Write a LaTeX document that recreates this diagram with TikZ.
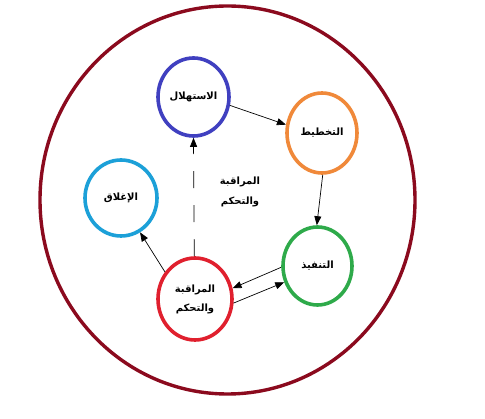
\documentclass[tikz,border=0pt]{standalone}
\usepackage{fontspec}
\newfontfamily\arabicfont[Script=Arabic]{DejaVu Sans}
\TeXXeTstate=1
\usetikzlibrary{shapes.geometric,arrows.meta}
\definecolor{outerred}{HTML}{8B0A1E}
\definecolor{cblue}{HTML}{4040C0}
\definecolor{corange}{HTML}{F0893A}
\definecolor{cgreen}{HTML}{2EAA4A}
\definecolor{cred}{HTML}{E0202E}
\definecolor{ccyan}{HTML}{1CA0D8}
\tikzset{
  phase/.style={ellipse, draw, line width=3.6pt, inner sep=0pt, fill=white,
    font=\arabicfont\bfseries\fontsize{10}{19}\selectfont, align=center},
  flow/.style={line width=0.7pt, -{Triangle[length=9pt,width=7pt]}},
  lbl/.style={font=\arabicfont\bfseries\fontsize{10}{20}\selectfont, align=center}
}
\begin{document}
\begin{tikzpicture}[x=1pt,y=-1pt]
\useasboundingbox (0,0) rectangle (485,419);
\fill[white] (0,0) rectangle (485,419);
\node[ellipse, draw=outerred, line width=3.4pt, minimum width=375pt, minimum height=388pt, inner sep=0pt] (outer) at (227.5,200) {};
\node[phase, draw=cblue, minimum width=71pt, minimum height=78pt] (init) at (193.5,97) {\beginR الاستهلال\endR};
\node[phase, draw=corange, minimum width=70pt, minimum height=80pt] (plan) at (322,133) {\beginR التخطيط\endR};
\node[phase, draw=cgreen, minimum width=69pt, minimum height=78pt] (exec) at (317.5,266) {\beginR التنفيذ\endR};
\node[phase, draw=cred, minimum width=74pt, minimum height=82pt] (mon) at (195,299) {\beginR المراقبة\endR\\\beginR والتحكم\endR};
\node[phase, draw=ccyan, minimum width=72pt, minimum height=76pt] (close) at (121,198) {\beginR الإغلاق\endR};
\node[lbl] (center) at (240,192) {\beginR المراقبة\endR\\\beginR والتحكم\endR};
\draw[flow] (init.-13) -- (plan.167);
\draw[flow] (plan.-89) -- (exec.91);
\draw[flow] (exec.182) -- (mon.16);
\draw[flow] (mon.-6) -- (exec.206);
\draw[flow] (mon.138) -- (close.-61);
\draw[flow, dash pattern=on 17pt off 17pt] (mon.91) -- (init.-90);
\end{tikzpicture}
\end{document}
